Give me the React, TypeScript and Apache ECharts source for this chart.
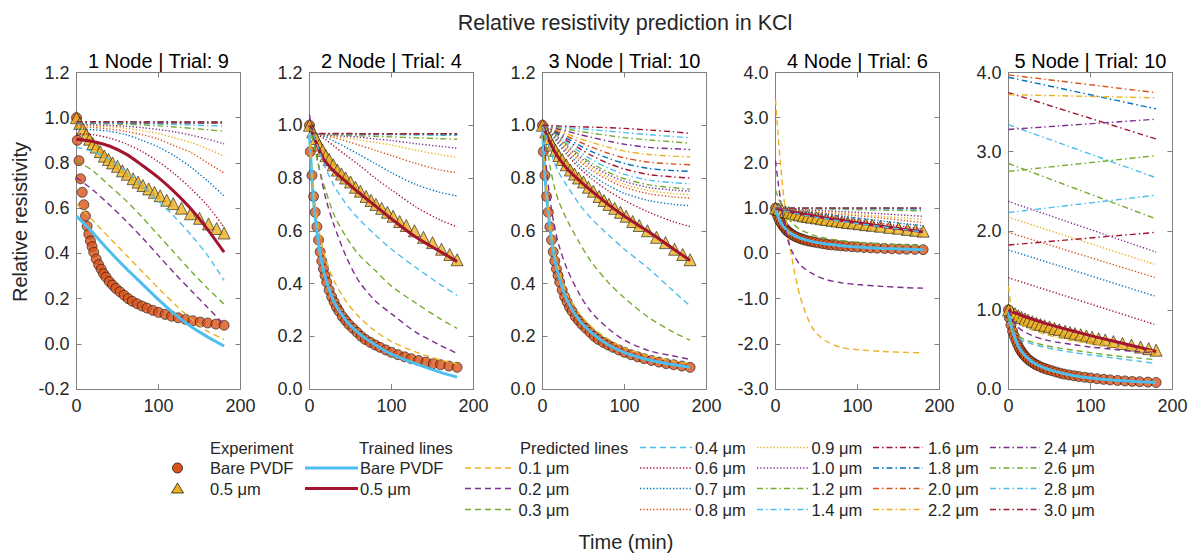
import React, { useEffect, useRef } from 'react';
import * as echarts from 'echarts';

// ---------------- DATA ----------------
const sizeLabels = ['0.1', '0.2', '0.3', '0.4', '0.6', '0.7', '0.8', '0.9', '1.0', '1.2', '1.4', '1.6', '1.8', '2.0', '2.2', '2.4', '2.6', '2.8', '3.0'];
const panelTitles = ['1 Node | Trial: 9', '2 Node | Trial: 4', '3 Node | Trial: 10', '4 Node | Trial: 6', '5 Node | Trial: 10'];
const yMins = [-0.2, 0, 0, -3, 0];
const yMaxs = [1.2, 1.2, 1.2, 4, 4];
const yIntervals = [0.2, 0.2, 0.2, 1, 1];
const xTicks = [0, 100, 200];

// experiment times (min)
const tExp = [0, 1, 3, 5, 7, 9, 11, 13, 15, 17, 19, 21, 24, 27, 30, 33, 36, 40, 44, 48, 53, 58, 63, 68, 74, 80, 86, 93, 100, 108, 116, 124, 133, 142, 151, 160, 170, 180];
const expBare = [1.0, 0.9, 0.81, 0.73, 0.67, 0.615, 0.565, 0.52, 0.485, 0.455, 0.43, 0.405, 0.375, 0.35, 0.33, 0.31, 0.295, 0.275, 0.26, 0.245, 0.23, 0.215, 0.2, 0.188, 0.177, 0.167, 0.158, 0.148, 0.139, 0.13, 0.122, 0.115, 0.108, 0.102, 0.096, 0.092, 0.087, 0.082];
const tTri = [0, 4, 8, 12, 16, 20, 24, 29, 34, 39, 44, 50, 56, 62, 69, 75, 81, 88, 95, 102, 110, 118, 128, 139, 150, 161, 171, 180];
const expHalf = [1.0, 0.975, 0.95, 0.925, 0.905, 0.885, 0.87, 0.85, 0.83, 0.815, 0.8, 0.785, 0.765, 0.75, 0.73, 0.715, 0.7, 0.685, 0.67, 0.655, 0.635, 0.62, 0.6, 0.575, 0.555, 0.53, 0.51, 0.49];

// model line times
const tLineA = [0, 20, 40, 60, 80, 100, 120, 140, 160, 180];
const tLineB = [0, 3, 6, 10, 15, 20, 30, 45, 60, 80, 100, 130, 160, 180];
const tEnds = [0, 180];

// Panel 1 (1 node)
const p1TrainBare = [0.565, 0.49, 0.41, 0.335, 0.265, 0.195, 0.13, 0.075, 0.03, -0.01];
const p1TrainHalf = [0.905, 0.895, 0.875, 0.84, 0.79, 0.735, 0.67, 0.595, 0.505, 0.405];
const p1Pred = [
  [0.62, 0.545, 0.47, 0.395, 0.32, 0.245, 0.175, 0.11, 0.055, 0.02],
  [0.735, 0.68, 0.615, 0.545, 0.47, 0.39, 0.31, 0.235, 0.16, 0.085],
  [0.81, 0.765, 0.7, 0.635, 0.56, 0.48, 0.4, 0.32, 0.245, 0.175],
  [0.87, 0.85, 0.815, 0.765, 0.7, 0.63, 0.56, 0.48, 0.39, 0.28],
  [0.93, 0.925, 0.91, 0.885, 0.85, 0.805, 0.75, 0.685, 0.61, 0.515],
  [0.95, 0.947, 0.94, 0.925, 0.9, 0.87, 0.83, 0.78, 0.72, 0.653],
  [0.96, 0.957, 0.95, 0.94, 0.925, 0.905, 0.875, 0.845, 0.8, 0.755],
  [0.965, 0.963, 0.96, 0.953, 0.943, 0.93, 0.91, 0.89, 0.862, 0.83],
  [0.97, 0.968, 0.966, 0.962, 0.956, 0.948, 0.937, 0.923, 0.905, 0.885],
  [0.975, 0.974, 0.973, 0.971, 0.968, 0.964, 0.959, 0.953, 0.947, 0.94],
  [0.977, 0.977, 0.976, 0.975, 0.974, 0.972, 0.97, 0.968, 0.965, 0.962],
  [0.979, 0.979, 0.979, 0.978, 0.978, 0.977, 0.977, 0.976, 0.976, 0.975],
  [0.979, 0.979, 0.979, 0.979, 0.979, 0.978, 0.978, 0.978, 0.977, 0.977],
  [0.98, 0.98, 0.98, 0.98, 0.979, 0.979, 0.979, 0.979, 0.978, 0.978],
  [0.98, 0.98, 0.98, 0.98, 0.98, 0.98, 0.979, 0.979, 0.979, 0.979],
  [0.98, 0.98, 0.98, 0.98, 0.98, 0.98, 0.98, 0.979, 0.979, 0.979],
  [0.981, 0.981, 0.981, 0.98, 0.98, 0.98, 0.98, 0.98, 0.98, 0.98],
  [0.981, 0.981, 0.981, 0.981, 0.981, 0.98, 0.98, 0.98, 0.98, 0.98],
  [0.982, 0.982, 0.982, 0.982, 0.981, 0.981, 0.981, 0.981, 0.981, 0.981],
];

// Panel 2 (2 nodes)
const p2TrainBare = [0.97, 0.8, 0.68, 0.575, 0.48, 0.415, 0.33, 0.258, 0.212, 0.168, 0.132, 0.095, 0.063, 0.045];
const p2TrainHalf = [1.0, 0.975, 0.95, 0.92, 0.885, 0.86, 0.825, 0.785, 0.745, 0.695, 0.645, 0.575, 0.52, 0.483];
const p2Pred = [
  [0.97, 0.82, 0.72, 0.63, 0.55, 0.49, 0.41, 0.33, 0.275, 0.22, 0.18, 0.14, 0.11, 0.095],
  [1.04, 0.98, 0.93, 0.865, 0.79, 0.72, 0.62, 0.5, 0.41, 0.335, 0.285, 0.215, 0.165, 0.135],
  [1.0, 0.96, 0.92, 0.86, 0.8, 0.75, 0.66, 0.575, 0.51, 0.45, 0.39, 0.325, 0.265, 0.23],
  [1.0, 0.98, 0.955, 0.92, 0.875, 0.835, 0.77, 0.7, 0.645, 0.585, 0.53, 0.46, 0.395, 0.355],
  [0.99, 0.98, 0.972, 0.965, 0.955, 0.945, 0.92, 0.885, 0.85, 0.8, 0.755, 0.69, 0.64, 0.615],
  [0.99, 0.98, 0.972, 0.966, 0.961, 0.955, 0.94, 0.915, 0.89, 0.855, 0.82, 0.775, 0.745, 0.732],
  [0.99, 0.98, 0.972, 0.966, 0.963, 0.96, 0.953, 0.94, 0.925, 0.905, 0.885, 0.855, 0.83, 0.82],
  [0.99, 0.98, 0.972, 0.966, 0.964, 0.962, 0.958, 0.952, 0.945, 0.935, 0.925, 0.905, 0.888, 0.877],
  [0.99, 0.98, 0.972, 0.966, 0.965, 0.963, 0.961, 0.958, 0.955, 0.948, 0.942, 0.93, 0.92, 0.913],
  [1.0, 0.985, 0.974, 0.967, 0.966, 0.965, 0.964, 0.962, 0.96, 0.958, 0.956, 0.952, 0.949, 0.947],
  [1.0, 0.985, 0.974, 0.967, 0.966, 0.966, 0.966, 0.965, 0.965, 0.964, 0.964, 0.963, 0.962, 0.962],
  [1.0, 0.985, 0.975, 0.967, 0.967, 0.967, 0.967, 0.967, 0.967, 0.967, 0.966, 0.966, 0.966, 0.966],
  [1.0, 0.985, 0.975, 0.967, 0.967, 0.967, 0.967, 0.967, 0.967, 0.966, 0.966, 0.966, 0.965, 0.965],
  [1.0, 0.985, 0.975, 0.968, 0.967, 0.967, 0.967, 0.967, 0.967, 0.967, 0.967, 0.966, 0.966, 0.966],
  [1.0, 0.986, 0.975, 0.968, 0.968, 0.968, 0.967, 0.967, 0.967, 0.967, 0.967, 0.967, 0.966, 0.966],
  [1.0, 0.986, 0.975, 0.968, 0.968, 0.968, 0.968, 0.967, 0.967, 0.967, 0.967, 0.967, 0.967, 0.967],
  [1.0, 0.986, 0.976, 0.968, 0.968, 0.968, 0.968, 0.968, 0.968, 0.967, 0.967, 0.967, 0.967, 0.967],
  [1.0, 0.986, 0.976, 0.969, 0.968, 0.968, 0.968, 0.968, 0.968, 0.968, 0.968, 0.968, 0.967, 0.967],
  [1.0, 0.987, 0.976, 0.969, 0.969, 0.969, 0.969, 0.969, 0.968, 0.968, 0.968, 0.968, 0.968, 0.968],
];

// Panel 3 (3 nodes)
const p3TrainBare = [1.0, 0.81, 0.7, 0.59, 0.49, 0.425, 0.335, 0.26, 0.213, 0.168, 0.138, 0.11, 0.092, 0.082];
const p3TrainHalf = [1.0, 0.98, 0.955, 0.93, 0.9, 0.875, 0.835, 0.79, 0.75, 0.7, 0.655, 0.595, 0.53, 0.487];
const p3Pred = [
  [1.0, 0.83, 0.72, 0.61, 0.515, 0.45, 0.36, 0.285, 0.235, 0.19, 0.155, 0.125, 0.105, 0.095],
  [1.0, 0.9, 0.8, 0.7, 0.61, 0.545, 0.455, 0.36, 0.29, 0.23, 0.185, 0.145, 0.125, 0.112],
  [1.0, 0.95, 0.9, 0.83, 0.76, 0.71, 0.64, 0.555, 0.48, 0.405, 0.345, 0.27, 0.215, 0.185],
  [1.0, 0.975, 0.945, 0.9, 0.855, 0.82, 0.77, 0.7, 0.645, 0.585, 0.53, 0.455, 0.37, 0.315],
  [1.0, 0.992, 0.984, 0.969, 0.948, 0.927, 0.888, 0.838, 0.797, 0.752, 0.715, 0.67, 0.634, 0.616],
  [1.0, 0.993, 0.986, 0.973, 0.954, 0.935, 0.898, 0.85, 0.812, 0.772, 0.742, 0.714, 0.7, 0.695],
  [1.0, 0.994, 0.988, 0.976, 0.959, 0.942, 0.908, 0.864, 0.829, 0.793, 0.765, 0.74, 0.728, 0.724],
  [1.0, 0.995, 0.989, 0.978, 0.962, 0.946, 0.914, 0.872, 0.838, 0.803, 0.776, 0.752, 0.741, 0.737],
  [1.0, 0.995, 0.99, 0.98, 0.965, 0.95, 0.92, 0.88, 0.847, 0.813, 0.787, 0.764, 0.754, 0.75],
  [1.0, 0.996, 0.991, 0.982, 0.968, 0.954, 0.926, 0.888, 0.856, 0.822, 0.797, 0.774, 0.763, 0.758],
  [1.0, 0.996, 0.992, 0.984, 0.972, 0.959, 0.934, 0.9, 0.87, 0.838, 0.814, 0.792, 0.782, 0.778],
  [1.0, 0.997, 0.993, 0.986, 0.975, 0.964, 0.942, 0.912, 0.885, 0.856, 0.834, 0.813, 0.804, 0.8],
  [1.0, 0.997, 0.994, 0.988, 0.979, 0.969, 0.95, 0.924, 0.9, 0.875, 0.855, 0.836, 0.828, 0.825],
  [1.0, 0.998, 0.995, 0.99, 0.982, 0.974, 0.958, 0.937, 0.917, 0.894, 0.876, 0.86, 0.853, 0.85],
  [1.0, 0.998, 0.996, 0.992, 0.986, 0.979, 0.967, 0.95, 0.935, 0.917, 0.902, 0.889, 0.883, 0.88],
  [1.0, 0.999, 0.997, 0.994, 0.99, 0.985, 0.977, 0.965, 0.954, 0.94, 0.928, 0.916, 0.911, 0.908],
  [1.0, 0.999, 0.998, 0.996, 0.993, 0.99, 0.985, 0.977, 0.97, 0.961, 0.953, 0.944, 0.937, 0.932],
  [1.0, 1.0, 0.999, 0.998, 0.996, 0.994, 0.991, 0.987, 0.983, 0.978, 0.972, 0.964, 0.957, 0.952],
  [1.0, 1.0, 1.0, 0.999, 0.998, 0.997, 0.996, 0.994, 0.993, 0.991, 0.988, 0.982, 0.975, 0.969],
];

// Panel 4 (4 nodes)
const p4TrainBare = [1.0, 0.82, 0.7, 0.59, 0.49, 0.425, 0.335, 0.26, 0.213, 0.168, 0.138, 0.11, 0.092, 0.082];
const p4TrainHalf = [1.0, 0.985, 0.97, 0.955, 0.935, 0.915, 0.88, 0.83, 0.785, 0.73, 0.675, 0.6, 0.525, 0.475];
const p4Pred = [
  [3.4, 2.65, 2.0, 1.25, 0.5, -0.1, -0.95, -1.65, -1.92, -2.08, -2.13, -2.17, -2.19, -2.2],
  [2.05, 1.6, 1.2, 0.75, 0.3, 0.05, -0.25, -0.45, -0.57, -0.65, -0.69, -0.73, -0.76, -0.77],
  [1.4, 1.25, 1.12, 0.96, 0.8, 0.68, 0.53, 0.41, 0.34, 0.285, 0.245, 0.21, 0.18, 0.165],
  [1.05, 1.02, 0.99, 0.96, 0.93, 0.9, 0.86, 0.81, 0.77, 0.71, 0.66, 0.59, 0.52, 0.47],
  [1.0, 0.99, 0.98, 0.97, 0.955, 0.94, 0.915, 0.875, 0.835, 0.785, 0.735, 0.66, 0.585, 0.54],
  [1.0, 0.992, 0.984, 0.975, 0.963, 0.952, 0.93, 0.897, 0.865, 0.822, 0.78, 0.715, 0.65, 0.61],
  [1.0, 0.994, 0.988, 0.981, 0.972, 0.963, 0.946, 0.92, 0.895, 0.862, 0.83, 0.78, 0.72, 0.68],
  [1.0, 0.996, 0.992, 0.986, 0.979, 0.972, 0.959, 0.94, 0.92, 0.893, 0.865, 0.82, 0.775, 0.75],
  [1.0, 0.997, 0.994, 0.99, 0.985, 0.98, 0.971, 0.957, 0.943, 0.925, 0.905, 0.875, 0.84, 0.82],
  [1.0, 0.999, 0.998, 0.997, 0.995, 0.993, 0.99, 0.985, 0.98, 0.973, 0.966, 0.956, 0.946, 0.94],
  [1.0, 1.0, 0.999, 0.999, 0.998, 0.997, 0.995, 0.993, 0.99, 0.987, 0.984, 0.979, 0.974, 0.97],
  [1.0, 1.0, 1.0, 1.0, 1.0, 1.0, 0.999, 0.999, 0.999, 0.998, 0.998, 0.997, 0.997, 0.996],
  [1.0, 1.0, 1.0, 1.0, 1.0, 1.0, 1.0, 0.999, 0.999, 0.999, 0.998, 0.998, 0.998, 0.997],
  [1.0, 1.0, 1.0, 1.0, 1.0, 1.0, 1.0, 1.0, 0.999, 0.999, 0.999, 0.998, 0.998, 0.998],
  [1.0, 1.0, 1.0, 1.0, 1.0, 1.0, 1.0, 1.0, 1.0, 0.999, 0.999, 0.999, 0.998, 0.998],
  [1.0, 1.0, 1.0, 1.0, 1.0, 1.0, 1.0, 1.0, 1.0, 1.0, 0.999, 0.999, 0.999, 0.999],
  [1.0, 1.0, 1.0, 1.0, 1.0, 1.0, 1.0, 1.0, 1.0, 1.0, 1.0, 0.999, 0.999, 0.999],
  [1.0, 1.0, 1.0, 1.0, 1.0, 1.0, 1.0, 1.0, 1.0, 1.0, 1.0, 1.0, 0.999, 0.999],
  [1.0, 1.0, 1.0, 1.0, 1.0, 1.0, 1.0, 1.0, 1.0, 1.0, 1.0, 1.0, 1.0, 1.0],
];

// Panel 5 (5 nodes): first four curves sampled on tLineB, the rest are straight (tEnds)
const p5TrainBare = [1.0, 0.82, 0.7, 0.59, 0.49, 0.425, 0.335, 0.26, 0.213, 0.168, 0.138, 0.11, 0.092, 0.082];
const p5TrainHalf = [1.0, 0.985, 0.97, 0.955, 0.935, 0.915, 0.88, 0.83, 0.785, 0.73, 0.675, 0.6, 0.525, 0.475];
const p5Pred = [
  [1.3, 1.05, 0.95, 0.88, 0.83, 0.79, 0.74, 0.69, 0.65, 0.61, 0.57, 0.53, 0.5, 0.48],
  [1.0, 0.92, 0.86, 0.8, 0.75, 0.72, 0.67, 0.62, 0.59, 0.56, 0.53, 0.5, 0.47, 0.46],
  [0.88, 0.8, 0.74, 0.69, 0.65, 0.625, 0.59, 0.55, 0.52, 0.49, 0.46, 0.42, 0.39, 0.37],
  [0.85, 0.77, 0.71, 0.66, 0.625, 0.6, 0.565, 0.525, 0.495, 0.46, 0.43, 0.39, 0.35, 0.32],
  [1.405, 0.81],
  [1.757, 1.17],
  [1.98, 1.405],
  [2.17, 1.57],
  [2.37, 1.73],
  [2.85, 2.15],
  [3.34, 2.67],
  [3.745, 3.16],
  [3.94, 3.54],
  [3.97, 3.745],
  [3.72, 3.68],
  [3.28, 3.41],
  [2.75, 2.95],
  [2.23, 2.45],
  [1.82, 1.98],
];

// ---------------- STYLE ----------------
const C = {
  blue: '#0072BD', orange: '#D95319', yellow: '#EDB120', purple: '#7E2F8E',
  green: '#77AC30', cyan: '#4DBEEE', darkred: '#A2142F',
};
const predColors = [C.yellow, C.purple, C.green, C.cyan, C.darkred, C.blue, C.orange, C.yellow, C.purple,
  C.green, C.cyan, C.darkred, C.blue, C.orange, C.yellow, C.purple, C.green, C.cyan, C.darkred];
const DASH = [6, 4];
const DOT = [1.3, 2];
const DASHDOT = [6, 3, 1.5, 3];
const predDash = sizeLabels.map((_, i) => (i < 4 ? DASH : i < 9 ? DOT : DASHDOT));

const FONT = '"Liberation Sans", Arial, Helvetica, sans-serif';
const TXT = '#262626';
const AX = '#808080';
const GRID_LEFT0 = 76.5;
const GRID_STEP = 233;
const GRID_TOP = 72.5;
const GRID_W = 164;
const GRID_H = 316.5;

const panelData = [
  { pred: p1Pred, bare: p1TrainBare, half: p1TrainHalf },
  { pred: p2Pred, bare: p2TrainBare, half: p2TrainHalf },
  { pred: p3Pred, bare: p3TrainBare, half: p3TrainHalf },
  { pred: p4Pred, bare: p4TrainBare, half: p4TrainHalf },
  { pred: p5Pred, bare: p5TrainBare, half: p5TrainHalf },
];

const timesFor = (row: number[]) => [tLineA, tLineB, tEnds].find((t) => t.length === row.length) as number[];
const pairs = (t: number[], v: number[]) => v.map((y, k) => [t[k], y]);
const fmt = (v: number) => (Math.abs(v) < 1e-9 ? 0 : v).toFixed(1);

function buildOption() {
  const grid: any[] = [];
  const xAxis: any[] = [];
  const yAxis: any[] = [];
  const series: any[] = [];
  const graphic: any[] = [];

  const tickStyle = { show: true, inside: true, length: 5, lineStyle: { color: AX, width: 1 } };
  const lineSt = { show: true, onZero: false, lineStyle: { color: AX, width: 1 } };

  panelData.forEach((p, i) => {
    const left = GRID_LEFT0 + GRID_STEP * i;
    grid.push({ left, top: GRID_TOP, width: GRID_W, height: GRID_H, containLabel: false });
    const xBase = { type: 'value', gridIndex: i, min: xTicks[0], max: xTicks[xTicks.length - 1], interval: xTicks[1] - xTicks[0], splitLine: { show: false }, axisLine: lineSt, axisTick: tickStyle };
    xAxis.push({ ...xBase, position: 'bottom', axisLabel: { color: TXT, fontSize: 18, fontFamily: FONT, margin: 8 } });
    xAxis.push({ ...xBase, position: 'top', axisLabel: { show: false } });
    const yBase = { type: 'value', gridIndex: i, min: yMins[i], max: yMaxs[i], interval: yIntervals[i], splitLine: { show: false }, axisLine: lineSt, axisTick: tickStyle };
    yAxis.push({ ...yBase, position: 'left', axisLabel: { color: TXT, fontSize: 18, fontFamily: FONT, margin: 7, formatter: fmt } });
    yAxis.push({ ...yBase, position: 'right', axisLabel: { show: false } });

    const ax = { xAxisIndex: 2 * i, yAxisIndex: 2 * i };
    // experiments
    series.push({
      ...ax, type: 'scatter', name: 'Experiment Bare PVDF', symbol: 'circle', symbolSize: 10,
      itemStyle: { color: C.orange, borderColor: '#000', borderWidth: 0.7 },
      data: pairs(tExp, expBare), z: 2,
    });
    series.push({
      ...ax, type: 'scatter', name: 'Experiment 0.5 μm', symbol: 'triangle', symbolSize: 12,
      itemStyle: { color: C.yellow, borderColor: '#000', borderWidth: 0.7 },
      data: pairs(tTri, expHalf), z: 2,
    });
    // trained
    series.push({
      ...ax, type: 'line', name: 'Trained Bare PVDF', showSymbol: false, symbol: 'none', smooth: 0.3,
      lineStyle: { color: C.cyan, width: 3 }, data: pairs(timesFor(p.bare), p.bare), z: 3,
    });
    series.push({
      ...ax, type: 'line', name: 'Trained 0.5 μm', showSymbol: false, symbol: 'none', smooth: 0.3,
      lineStyle: { color: C.darkred, width: 3 }, data: pairs(timesFor(p.half), p.half), z: 3,
    });
    // predicted
    p.pred.forEach((row, j) => {
      series.push({
        ...ax, type: 'line', name: sizeLabels[j] + ' μm', showSymbol: false, symbol: 'none', smooth: 0.3,
        lineStyle: { color: predColors[j], width: 1.4, type: predDash[j], cap: 'butt' },
        data: pairs(timesFor(row), row), z: 4,
      });
    });

    graphic.push({
      type: 'text', x: left + GRID_W / 2, y: 61,
      style: { text: panelTitles[i], fill: '#000', fontSize: 20, fontFamily: FONT, align: 'center', verticalAlign: 'middle', textAlign: 'center', textVerticalAlign: 'middle' },
    });
  });

  const txt = (x: number, y: number, text: string, size: number, align = 'left', rotation = 0) => ({
    type: 'text', x, y, rotation,
    style: { text, fill: TXT, fontSize: size, fontFamily: FONT, align, verticalAlign: 'middle', textAlign: align, textVerticalAlign: 'middle' },
  });

  graphic.push(txt(625, 23, 'Relative resistivity prediction in KCl', 21.5, 'center'));
  graphic.push(txt(20, 222, 'Relative resistivity', 20, 'center', Math.PI / 2));
  graphic.push(txt(626, 542, 'Time (min)', 20, 'center'));

  // legend
  const LF = 16.5;
  const rows = [447.5, 468, 488.5, 509.5];
  graphic.push(txt(210, rows[0], 'Experiment', LF));
  graphic.push({ type: 'circle', shape: { cx: 177.5, cy: rows[1], r: 5 }, style: { fill: C.orange, stroke: '#000', lineWidth: 0.7 } });
  graphic.push(txt(210, rows[1], 'Bare PVDF', LF));
  graphic.push({ type: 'polygon', shape: { points: [[177.5, rows[2] - 5.5], [183.5, rows[2] + 4.5], [171.5, rows[2] + 4.5]] }, style: { fill: C.yellow, stroke: '#000', lineWidth: 0.7 } });
  graphic.push(txt(210, rows[2], '0.5 μm', LF));

  graphic.push(txt(359, rows[0], 'Trained lines', LF));
  graphic.push({ type: 'line', shape: { x1: 305, y1: rows[1], x2: 358, y2: rows[1] }, style: { stroke: C.cyan, lineWidth: 3 } });
  graphic.push(txt(360, rows[1], 'Bare PVDF', LF));
  graphic.push({ type: 'line', shape: { x1: 305, y1: rows[2], x2: 358, y2: rows[2] }, style: { stroke: C.darkred, lineWidth: 3 } });
  graphic.push(txt(360, rows[2], '0.5 μm', LF));

  graphic.push(txt(520, rows[0], 'Predicted lines', LF));
  const cols = [
    { x1: 465, x2: 512, tx: 518.5, start: 1 },
    { x1: 640, x2: 692, tx: 695, start: 0 },
    { x1: 757, x2: 808, tx: 811.5, start: 0 },
    { x1: 873, x2: 923, tx: 928, start: 0 },
    { x1: 990, x2: 1040, tx: 1044, start: 0 },
  ];
  let k = 0;
  cols.forEach((c) => {
    for (let r = c.start; r < 4 && k < sizeLabels.length; r++, k++) {
      graphic.push({ type: 'line', shape: { x1: c.x1, y1: rows[r], x2: c.x2, y2: rows[r] }, style: { stroke: predColors[k], lineWidth: 1.4, lineDash: predDash[k] } });
      graphic.push(txt(c.tx, rows[r], sizeLabels[k] + ' μm', LF));
    }
  });

  return {
    animation: false,
    backgroundColor: '#fff',
    textStyle: { fontFamily: FONT },
    grid, xAxis, yAxis, series, graphic,
  };
}

export default function App() {
  const ref = useRef<HTMLDivElement>(null);
  useEffect(() => {
    const chart = echarts.init(ref.current as HTMLDivElement, null, { renderer: 'svg' });
    chart.setOption(buildOption() as any);
    return () => chart.dispose();
  }, []);
  return <div ref={ref} style={{ position: 'fixed', left: 0, top: 0, width: 1192, height: 553, background: '#fff' }} />;
}
